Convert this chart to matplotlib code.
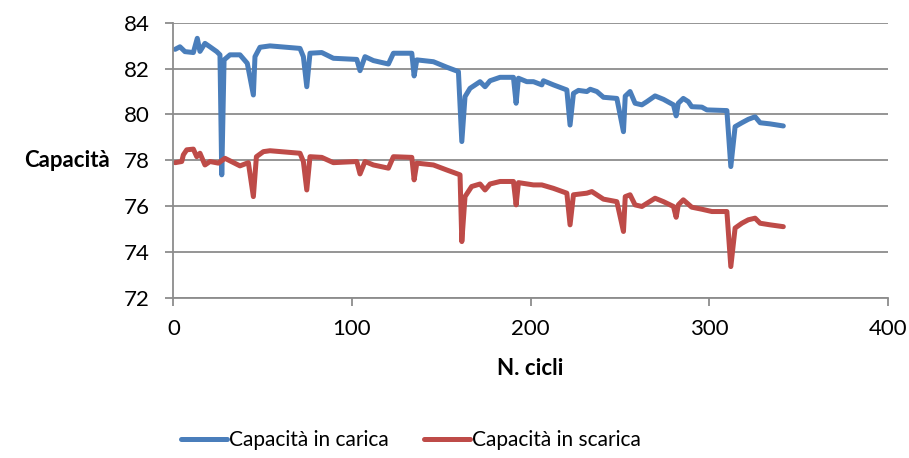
import matplotlib
matplotlib.use("Agg")
import matplotlib.pyplot as plt

# Capacità in carica (cycle, capacity)
carica_x = [1, 3.7, 6.5, 11.2, 13.4, 14.9, 17.7, 20.5, 24.3, 26.1, 27.1, 28.4, 31.7, 37.3,
            41.4, 44.8, 45.7, 48.5, 54.1, 70.9, 72.8, 74.7, 76.5, 83.1, 89.6, 102.7, 104.5,
            107.3, 112, 120.4, 123.2, 133.5, 134.8, 136.3, 145.6, 153.1, 159.6, 161.5, 163.3,
            166.1, 171.7, 174.5, 177.3, 182.9, 190.4, 191.9, 193.2, 197.9, 201.6, 206.3, 207.2,
            212.8, 220.3, 222.1, 224, 226.8, 231.5, 233.4, 237.1, 240.8, 248.3, 252, 253,
            255.7, 258.5, 262.3, 265.1, 269.7, 274.4, 280, 281.5, 282.7, 285.5, 288.3, 290.2,
            295.9, 298.7, 309.9, 312.1, 314.5, 318.3, 321.9, 325.7, 328.5, 334.1, 341.5]
carica_y = [82.84, 82.95, 82.74, 82.7, 83.32, 82.75, 83.1, 82.95, 82.74, 82.6, 77.37, 82.38,
            82.6, 82.6, 82.23, 80.85, 82.52, 82.93, 82.99, 82.88, 82.52, 81.21, 82.67, 82.7,
            82.45, 82.4, 81.91, 82.52, 82.35, 82.2, 82.67, 82.67, 81.68, 82.38, 82.3, 82.06,
            81.87, 78.82, 80.78, 81.14, 81.43, 81.21, 81.47, 81.62, 81.62, 80.49, 81.58, 81.43,
            81.43, 81.29, 81.47, 81.29, 81.07, 79.54, 80.92, 81.05, 81.0, 81.1, 81.0, 80.75,
            80.7, 79.25, 80.8, 81.0, 80.49, 80.42, 80.56, 80.81, 80.66, 80.42, 79.94, 80.49,
            80.7, 80.56, 80.34, 80.32, 80.2, 80.17, 77.73, 79.47, 79.64, 79.79, 79.9, 79.64,
            79.59, 79.5]

# Capacità in scarica (cycle, capacity)
scarica_x = [1, 4.7, 5.6, 7.5, 11.2, 13.1, 14.9, 17.7, 20.5, 25.2, 28.9, 37.3, 42, 44.8,
             46.5, 50.4, 54.1, 70.9, 72.8, 74.7, 76.5, 83.1, 89.6, 102.7, 104.5, 107.3, 112,
             120.4, 123.2, 133.5, 134.8, 136.3, 145.6, 153.1, 160.5, 161.5, 163.3, 167, 171.7,
             174.5, 177.3, 182.9, 190.4, 191.9, 193.2, 201.6, 206.3, 212.8, 220.3, 222.1, 224,
             231.5, 234.3, 240.8, 248.3, 252, 253, 255.7, 258.5, 262.3, 269.7, 274.4, 280,
             281.5, 282.7, 285.5, 290.2, 295.9, 301.5, 309.9, 312.1, 314.5, 318.3, 321.9,
             325.7, 328.5, 334.1, 341.5]
scarica_y = [77.9, 77.95, 78.24, 78.46, 78.49, 78.16, 78.31, 77.8, 77.95, 77.88, 78.09, 77.76,
             77.9, 76.42, 78.16, 78.38, 78.42, 78.31, 77.95, 76.71, 78.16, 78.13, 77.9, 77.95,
             77.41, 77.95, 77.8, 77.66, 78.16, 78.13, 77.15, 77.88, 77.8, 77.58, 77.37, 74.46,
             76.42, 76.86, 76.97, 76.71, 76.97, 77.08, 77.08, 76.06, 77.03, 76.93, 76.93, 76.78,
             76.57, 75.19, 76.5, 76.57, 76.64, 76.31, 76.2, 74.9, 76.42, 76.5, 76.06, 75.99,
             76.35, 76.2, 75.99, 75.52, 76.06, 76.28, 75.96, 75.87, 75.77, 75.77, 73.37, 75.05,
             75.26, 75.41, 75.48, 75.26, 75.19, 75.11]

x_ticks = [0, 100, 200, 300, 400]
y_ticks = [72, 74, 76, 78, 80, 82, 84]

BLUE = "#4A7EBB"
RED = "#BE4B48"
GRID = "#8C8C8C"

plt.rcParams["font.family"] = ["Lato", "DejaVu Sans"]

fig = plt.figure(figsize=(9.09, 4.58), dpi=100)
ax = fig.add_axes([0.1907, 0.3493, 0.786, 0.6011])

line_kw = dict(linewidth=3.6, solid_capstyle="round", solid_joinstyle="round")
ax.plot(carica_x, carica_y, color=BLUE, label="Capacità in carica", **line_kw)
ax.plot(scarica_x, scarica_y, color=RED, label="Capacità in scarica", **line_kw)

ax.set_xlim(0, 400)
ax.set_ylim(72, 84)
ax.set_xticks(x_ticks)
ax.set_yticks(y_ticks)
ax.grid(axis="y", color=GRID, linewidth=1.3)
ax.set_axisbelow(True)
for side in ("top", "right"):
    ax.spines[side].set_visible(False)
for side in ("left", "bottom"):
    ax.spines[side].set_color(GRID)
    ax.spines[side].set_linewidth(1.3)
ax.tick_params(axis="both", colors=GRID, length=6, width=1.3, labelsize=16,
               labelcolor="black")
ax.tick_params(axis="y", pad=11)
ax.tick_params(axis="x", pad=9)

ax.set_xlabel("N. cicli", fontsize=16, fontweight="bold", labelpad=14)
ax.set_ylabel("Capacità", fontsize=16, fontweight="bold", rotation=0,
              ha="right", va="center", labelpad=10)

fig.legend(loc="center", bbox_to_anchor=(0.452, 0.039), ncol=2, frameon=False,
           fontsize=15, handlelength=2.2, handletextpad=0.1, columnspacing=1.7)

fig.savefig("out.png", dpi=100)
